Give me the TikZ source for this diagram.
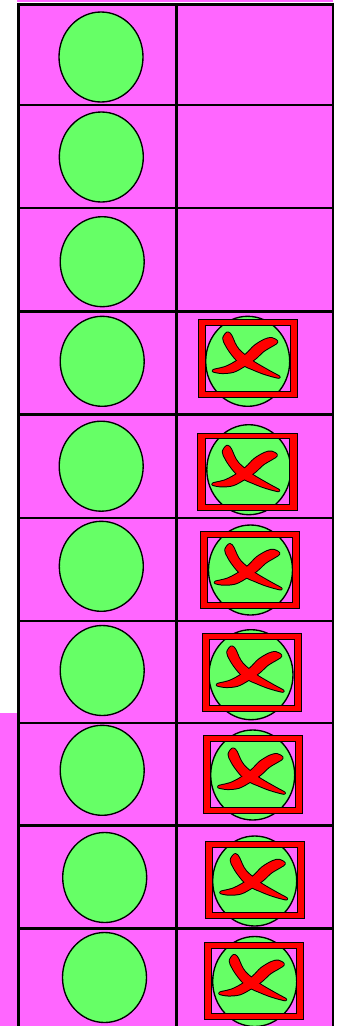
\documentclass[tikz,border=0pt]{standalone}
\usetikzlibrary{shapes.geometric}
\definecolor{mag}{RGB}{255,102,255}
\definecolor{grn}{RGB}{102,255,102}
\definecolor{xred}{RGB}{255,0,0}
\tikzset{
  oval/.style={ellipse, draw=black, line width=1.35pt, fill=grn, minimum width=84pt, minimum height=90pt, inner sep=0pt},
  gridline/.style={line width=2.9pt, draw=black},
  frame/.style={fill=xred, draw=black, line width=1pt, even odd rule},
  boxnode/.style={minimum width=99pt, minimum height=77pt, inner sep=0pt},
  xoutline/.style={draw=black, line width=3pt, line join=round},
  xfill/.style={fill=xred, draw=xred, line width=1pt, line join=round},
}
\newcommand\strokeA{plot[smooth cycle, tension=0.55] coordinates {(-20,-25.5) (-24,-20) (-21.5,-13.5) (-17.7,-7.3) (-11,1) (-3,7) (5,10.5) (14.3,14.3) (25,17.6) (31.5,18.8) (22,13.5) (7.3,5) (-1,-1) (-9.3,-8.3) (-13.5,-15) (-16.5,-22)}}
\newcommand\strokeB{plot[smooth cycle, tension=0.55] coordinates {(24,-19.7) (17.3,-18.3) (7.3,-12.3) (-1,-4) (-12.7,4.3) (-22.7,9.3) (-31,11.3) (-34.5,12.6) (-26,14.2) (-14.3,13) (-3,7) (7.3,0) (15.7,-7.7) (25,-13.3) (29.2,-16.5)}}
\newcommand\redbox[2]{%
  \node[boxnode] (#1) at (#2) {};
  \path[frame] (#1.south west) rectangle (#1.north east)
    ([shift={(-42.3,-32.8)}]#1.center) rectangle ([shift={(42.3,32.8)}]#1.center);
  \begin{scope}[shift={(#1.center)}]
    \path[xoutline] \strokeA;
    \path[xoutline] \strokeB;
    \path[xfill] \strokeA;
    \path[xfill] \strokeB;
  \end{scope}
}
\begin{document}
\begin{tikzpicture}[x=1pt, y=-1pt]
\useasboundingbox (0,0) rectangle (342,1026);
% backgrounds
\fill[mag] (17.3,0) rectangle (333,2.3);
\fill[mag] (0,713.3) rectangle (18.7,1026);
\fill[mag] (18.7,4.7) rectangle (333,1026);
% grid
\foreach \y in {4.7,105,208,311.7,414.3,518,621,723,825.7,928.5}
  \draw[gridline] (17.25,\y) -- (334.45,\y);
\foreach \x in {18.7,176.7,333}
  \draw[gridline] (\x,3.25) -- (\x,1026);
% left column ellipses
\node[oval] (L1) at (101,57) {};
\node[oval] (L2) at (101.3,157) {};
\node[oval] (L3) at (102.2,261.7) {};
\node[oval] (L4) at (102.2,361.3) {};
\node[oval] (L5) at (101.2,466.2) {};
\node[oval] (L6) at (101.3,566.3) {};
\node[oval] (L7) at (102.2,670.5) {};
\node[oval] (L8) at (102.2,770.3) {};
\node[oval] (L9) at (104.7,877.5) {};
\node[oval] (L10) at (104.5,977.5) {};
% right column ellipses
\node[oval] (R4) at (247.7,361.3) {};
\node[oval] (R5) at (248.8,469.7) {};
\node[oval] (R6) at (250.5,570) {};
\node[oval] (R7) at (251,674.7) {};
\node[oval] (R8) at (252.7,775) {};
\node[oval] (R9) at (254.7,881) {};
\node[oval] (R10) at (254.7,981.5) {};
% red boxes with crosses
\redbox{B4}{247.7,358.3}
\redbox{B5}{247.3,471.7}
\redbox{B6}{249.7,570}
\redbox{B7}{251.7,672.3}
\redbox{B8}{253,774.3}
\redbox{B9}{255.2,880}
\redbox{B10}{254.2,980.8}
\end{tikzpicture}
\end{document}
